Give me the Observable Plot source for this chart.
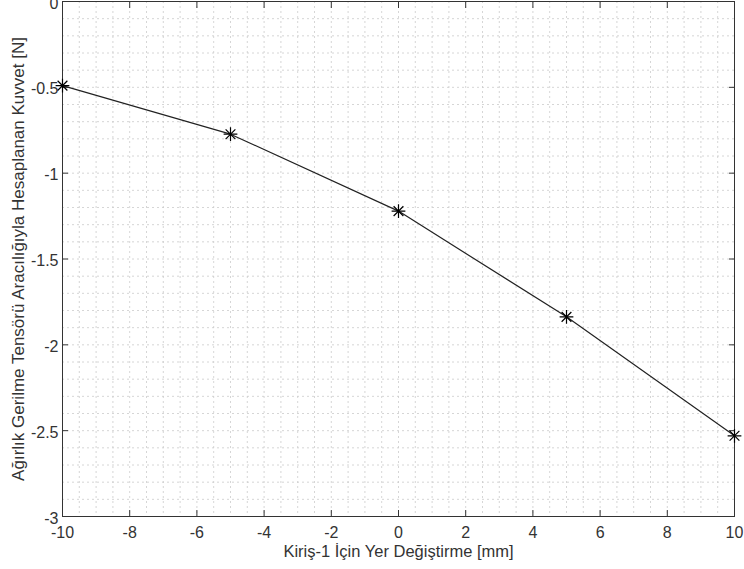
<!DOCTYPE html>
<html>
<head>
<meta charset="utf-8">
<script src="https://cdn.jsdelivr.net/npm/d3@7"></script>
<script src="https://cdn.jsdelivr.net/npm/@observablehq/plot@0.6"></script>
<style>
  html, body { margin: 0; padding: 0; background: #fff; }
</style>
</head>
<body>
<div id="chart"></div>
<script>
const displacement = [-10, -5, 0, 5, 10];
const force = [-0.49, -0.773, -1.221, -1.837, -2.53];
const xTicks = [-10, -8, -6, -4, -2, 0, 2, 4, 6, 8, 10];
const yTicks = [0, -0.5, -1, -1.5, -2, -2.5, -3];
const xMinor = d3.range(-10, 10.001, 0.5);
const yMinor = d3.range(-3, 0.0001, 0.1);
const xLabel = "Kiriş-1 İçin Yer Değiştirme [mm]";
const yLabel = "Ağırlık Gerilme Tensörü Aracılığıyla Hesaplanan Kuvvet [N]";

const data = displacement.map((x, i) => ({x, y: force[i]}));
const axisColor = "#333";
const noText = () => "";
const fmt = d => String(d);

const chart = Plot.plot({
  width: 744,
  height: 569,
  marginTop: 1,
  marginBottom: 53,
  marginLeft: 62,
  marginRight: 10,
  style: {fontFamily: "'Liberation Sans', Arial, sans-serif", fontSize: "16px", color: axisColor, background: "#fff"},
  x: {domain: [-10, 10]},
  y: {domain: [-3, 0]},
  marks: [
    Plot.ruleX(xMinor, {stroke: "#cccccc", strokeDasharray: "2,3", strokeWidth: 0.8}),
    Plot.ruleY(yMinor, {stroke: "#cccccc", strokeDasharray: "2,3", strokeWidth: 0.8}),
    Plot.axisX(xTicks, {anchor: "bottom", tickSize: -6, tickFormat: noText, stroke: axisColor, label: null}),
    Plot.axisX(xTicks, {anchor: "top", tickSize: -6, tickFormat: noText, stroke: axisColor, label: null}),
    Plot.axisY(yTicks, {anchor: "left", tickSize: -6, tickFormat: noText, stroke: axisColor, label: null}),
    Plot.axisY(yTicks, {anchor: "right", tickSize: -6, tickFormat: noText, stroke: axisColor, label: null}),
    Plot.text(xTicks, {x: d => d, text: fmt, frameAnchor: "bottom", dy: 16, lineAnchor: "middle", textAnchor: "middle", fontSize: 16, fill: axisColor}),
    Plot.text(yTicks, {y: d => d, text: fmt, frameAnchor: "left", dx: -4, dy: 2, lineAnchor: "middle", textAnchor: "end", fontSize: 16, fill: axisColor}),
    Plot.frame({stroke: axisColor, strokeWidth: 1}),
    Plot.text([xLabel], {frameAnchor: "bottom", dy: 35, lineAnchor: "middle", fontSize: 16.5, fill: axisColor, textAnchor: "middle"}),
    Plot.text([yLabel], {frameAnchor: "left", dx: -44, rotate: -90, fontSize: 17, fill: axisColor, textAnchor: "middle"}),
    Plot.line(data, {x: "x", y: "y", stroke: "#222", strokeWidth: 1.2}),
    Plot.dot(data, {x: "x", y: "y", symbol: "plus", r: 4.5, stroke: "#000", strokeWidth: 1.2}),
    Plot.dot(data, {x: "x", y: "y", symbol: "times", r: 4.5, stroke: "#000", strokeWidth: 1.2})
  ]
});
document.getElementById("chart").appendChild(chart);
</script>
</body>
</html>
